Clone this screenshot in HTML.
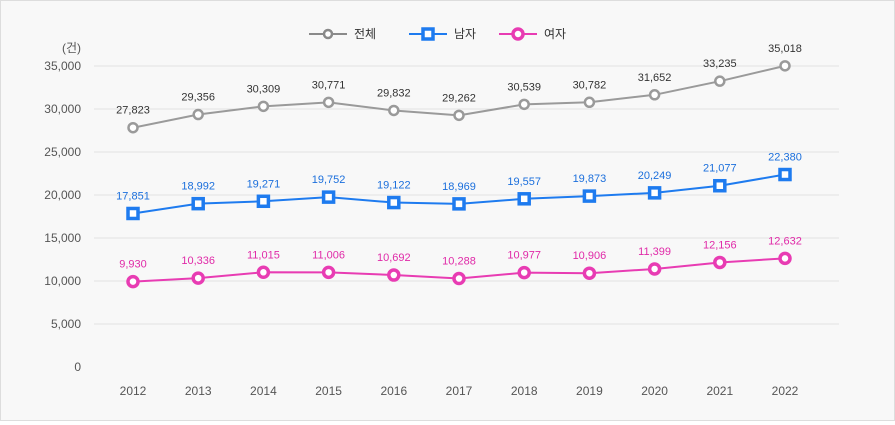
<!DOCTYPE html>
<html><head><meta charset="utf-8"><style>
body{margin:0;background:#fff;}
#wrap{position:relative;width:893px;height:419px;border:1px solid #ddd;background:#f8f8f8;font-family:"Liberation Sans","Noto Sans CJK KR",sans-serif;}
svg text{font-family:"Liberation Sans","Noto Sans CJK KR",sans-serif;}
</style></head><body>
<div id="wrap">
<svg id="chart" width="893" height="419"></svg>
</div>
<script>
const years=[2012,2013,2014,2015,2016,2017,2018,2019,2020,2021,2022];
const totalVals=[27823,29356,30309,30771,29832,29262,30539,30782,31652,33235,35018];
const maleVals=[17851,18992,19271,19752,19122,18969,19557,19873,20249,21077,22380];
const femaleVals=[9930,10336,11015,11006,10692,10288,10977,10906,11399,12156,12632];
const yTicks=[0,5000,10000,15000,20000,25000,30000,35000];
const seriesNames=["전체","남자","여자"];
const NS="http://www.w3.org/2000/svg";
const svg=document.getElementById('chart');
function el(t,a,p){const e=document.createElementNS(NS,t);for(const k in a)e.setAttribute(k,a[k]);(p||svg).appendChild(e);return e;}
const x0=132,x1=784,yTop=65,yBot=366;
const xs=i=>x0+(x1-x0)*i/(years.length-1);
const ys=v=>yBot-(yBot-yTop)*v/35000;
const fmt=v=>v.toLocaleString('en-US');
yTicks.forEach(t=>{
  const g=el('line',{x1:93,x2:838,y1:ys(t),y2:ys(t),stroke:t===0?'#f8f8f8':'#e2e2e2','stroke-width':1});
  
  
  const tx=el('text',{x:80,y:ys(t)+4,'text-anchor':'end','font-size':12,fill:'#555'});
  tx.textContent=fmt(t);
  
  
});
const unit=el('text',{x:80,y:51,'text-anchor':'end','font-size':12,fill:'#555'});unit.textContent='(건)';


years.forEach((y,i)=>{
  const t=el('text',{x:xs(i),y:394,'text-anchor':'middle','font-size':12,fill:'#555'});t.textContent=y;
  
  
});
function series(vals,color,labelColor,shape,name){
  const pts=vals.map((v,i)=>xs(i)+','+ys(v)).join(' ');
  const l=el('polyline',{points:pts,fill:'none',stroke:color,'stroke-width':2});
  
  
  vals.forEach((v,i)=>{
    let m;
    if(shape==='sq'){m=el('rect',{x:xs(i)-5,y:ys(v)-5,width:10,height:10,fill:'#fff',stroke:color,'stroke-width':3.5});}
    else if(shape==='big'){m=el('circle',{cx:xs(i),cy:ys(v),r:5,fill:'#fff',stroke:color,'stroke-width':3.5});}
    else{m=el('circle',{cx:xs(i),cy:ys(v),r:4.5,fill:'#fff',stroke:color,'stroke-width':2.5});}
    
    
    const t=el('text',{x:xs(i),y:ys(v)-14,'text-anchor':'middle','font-size':11,fill:labelColor});t.textContent=fmt(v);
    
    
  });
}
series(totalVals,'#9a9a9a','#333','c','total');
series(maleVals,'#1e7bef','#1b6fdc','sq','male');
series(femaleVals,'#e83cb3','#e02aa8','big','female');
// legend
const leg=[[308,'#8a8a8a','c',seriesNames[0]],[408,'#1e7bef','sq',seriesNames[1]],[498,'#e83cb3','big',seriesNames[2]]];
leg.forEach(([x,c,s,n])=>{
  const g=el('g',{});
  
  
  el('line',{x1:x,x2:x+38,y1:33,y2:33,stroke:c,'stroke-width':2},g);
  if(s==='sq')el('rect',{x:x+14,y:28,width:10,height:10,fill:'#fff',stroke:c,'stroke-width':3.5},g);
  else if(s==='big')el('circle',{cx:x+19,cy:33,r:5,fill:'#fff',stroke:c,'stroke-width':3.5},g);
  else el('circle',{cx:x+19,cy:33,r:4,fill:'#fff',stroke:c,'stroke-width':2.5},g);
  const t=el('text',{x:x+45,y:37,'font-size':12,fill:'#333'},g);t.textContent=n;
});
</script>
</body></html>
